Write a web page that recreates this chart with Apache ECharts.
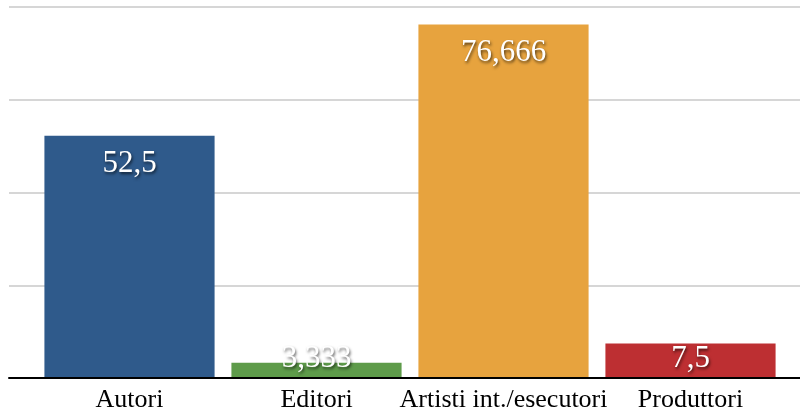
<!DOCTYPE html>
<html>
<head>
<meta charset="utf-8">
<script src="https://cdn.jsdelivr.net/npm/echarts@6/dist/echarts.min.js"></script>
<style>
  html, body { margin: 0; padding: 0; background: #fff; }
  #chart { width: 800px; height: 417px; }
</style>
</head>
<body>
<div id="chart"></div>
<script>
// dati del grafico
const categories = ['Autori', 'Editori', 'Artisti int./esecutori', 'Produttori'];
const values = [52.5, 3.333, 76.666, 7.5];
const barColors = ['#2F5A8B', '#5E9B4A', '#E7A33E', '#BD2F32'];
const yMax = 80;
const yStep = 20;

const chart = echarts.init(document.getElementById('chart'));

const serif = '"Liberation Serif", "DejaVu Serif", serif';

// etichette sulle barre: dentro in alto, oppure vicino alla base se la barra e' bassa
const barData = values.map((v, i) => {
  const small = v < 10;
  return {
    value: v,
    itemStyle: { color: barColors[i] },
    label: small
      ? { position: 'insideBottom', distance: 4 }
      : { position: 'insideTop', distance: 13 },
  };
});

const option = {
  animation: false,
  grid: [
    // griglia di sfondo (linee orizzontali + asse nero)
    { left: 9, right: 0, top: 7, bottom: 39 },
    // barre
    { left: 36, right: 16, top: 9, bottom: 39 },
  ],
  xAxis: [
    {
      gridIndex: 0,
      type: 'category',
      data: categories,
      axisLine: { show: true, lineStyle: { color: '#000', width: 2 } },
      axisTick: { show: false },
      axisLabel: { show: false },
      z: 5,
    },
    {
      gridIndex: 1,
      type: 'category',
      data: categories,
      axisLine: { show: false },
      axisTick: { show: false },
      axisLabel: {
        interval: 0,
        color: '#000',
        fontFamily: serif,
        fontSize: 26,
        margin: 9,
      },
    },
  ],
  yAxis: [
    {
      gridIndex: 0,
      type: 'value',
      min: 0,
      max: yMax,
      interval: yStep,
      axisLine: { show: false },
      axisTick: { show: false },
      axisLabel: { show: false },
      splitLine: { lineStyle: { color: '#c8c8c8', width: 1.5 } },
    },
    {
      gridIndex: 1,
      type: 'value',
      min: 0,
      max: yMax,
      interval: yStep,
      show: false,
      splitLine: { show: false },
    },
  ],
  series: [
    {
      type: 'bar',
      xAxisIndex: 1,
      yAxisIndex: 1,
      data: barData,
      barCategoryGap: '9%',
      label: {
        show: true,
        color: '#fff',
        fontFamily: serif,
        fontSize: 31,
        textShadowColor: 'rgba(0,0,0,0.65)',
        textShadowBlur: 3,
        textShadowOffsetX: 1,
        textShadowOffsetY: 2,
        formatter: (p) => String(p.value).replace('.', ','),
      },
      z: 3,
    },
  ],
};

chart.setOption(option);
</script>
</body>
</html>
